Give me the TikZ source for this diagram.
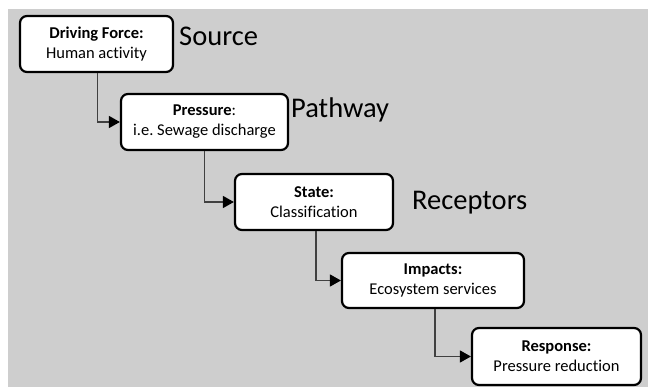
\documentclass[tikz,border=0pt]{standalone}
\usepackage{fontspec}
\setmainfont[Ligatures=NoCommon]{Carlito}
\usetikzlibrary{arrows.meta}
\frenchspacing
\begin{document}
\begin{tikzpicture}[x=1pt,y=-1pt,
  box/.style={draw=black,line width=2.2pt,rounded corners=7pt,fill=white,align=center,
    font=\fontsize{16.5}{20}\selectfont,inner sep=0pt},
  lbl/.style={anchor=west,font=\fontsize{28.5}{32}\selectfont,inner sep=0pt},
  conn/.style={draw=black!75,line width=1.4pt,-{Triangle[length=11pt,width=12pt,color=black]}}]
\useasboundingbox (0,0) rectangle (648,387);
\fill[white] (0,0) rectangle (648,387);
\fill[gray!30!white!95!black] (8,9) rectangle (648,387);
\node[box,minimum width=153pt,minimum height=56pt] (d) at (96.5,44) {\textbf{Driving Force:}\\Human activity};
\node[box,minimum width=167pt,minimum height=56pt] (p) at (204.5,122) {\textbf{Pressure}:\\i.e. Sewage discharge};
\node[box,minimum width=158pt,minimum height=56pt] (s) at (314,202) {\textbf{State:}\\Classification};
\node[box,minimum width=182pt,minimum height=55pt] (i) at (433,280.5) {\textbf{Impacts:}\\Ecosystem services};
\node[box,minimum width=169pt,minimum height=57pt] (r) at (556.5,356.5) {\textbf{Response:}\\Pressure reduction};
\node[lbl] (src) at (179,36) {Source};
\node[lbl] (pw) at (291,110) {Pathway};
\node[lbl] (rc) at (412,203) {Receptors};
\draw[conn] (d.south) ++(1,0) |- (p.west);
\draw[conn] (p.south) |- (s.west);
\draw[conn] (s.south) ++(2,0) |- (i.west);
\draw[conn] (i.south) ++(2,0) |- (r.west);
\end{tikzpicture}
\end{document}
